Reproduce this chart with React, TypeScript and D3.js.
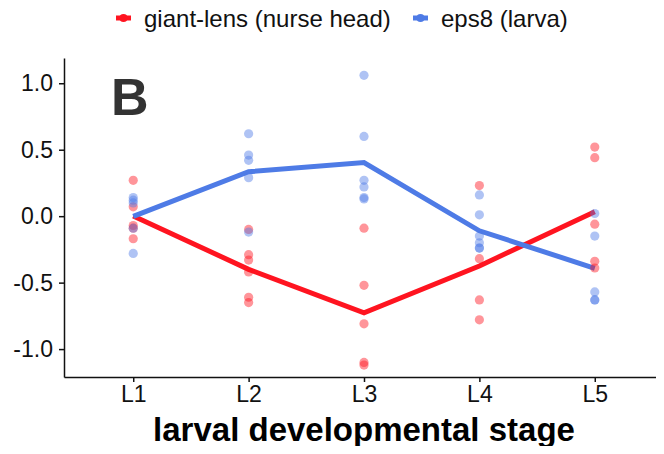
import { useEffect, useRef } from 'react';
import * as d3 from "d3";

// stages on the x axis
const stages = ["L1", "L2", "L3", "L4", "L5"];

// giant-lens (nurse head), one array of replicate values per stage
const lensValues = [
  [0.27, 0.07, -0.07, -0.09, -0.17],
  [-0.10, -0.29, -0.33, -0.42, -0.61, -0.65],
  [-0.09, -0.52, -0.81, -1.10, -1.12],
  [0.23, -0.32, -0.63, -0.78],
  [0.52, 0.44, -0.06, -0.34, -0.39],
];

// eps8 (larva)
const eps8Values = [
  [0.14, 0.12, 0.10, -0.09, -0.28],
  [0.62, 0.46, 0.42, 0.29, -0.12],
  [1.06, 0.60, 0.27, 0.22, 0.14, 0.13],
  [0.16, 0.01, -0.15, -0.20, -0.24, -0.24],
  [0.02, -0.15, -0.57, -0.63, -0.63],
];

const yTicks = [1.0, 0.5, 0.0, -0.5, -1.0];

const seriesNames = ["giant-lens (nurse head)", "eps8 (larva)"];
const seriesColors = ["#ff1420", "#4e7be6"];

export default function App() {
  const chartRef = useRef<SVGSVGElement>(null);

  useEffect(() => {
    if (!chartRef.current) return;
    d3.select(chartRef.current).selectAll("*").remove();

    const width = 664;
    const height = 454;
    const marginTop = 58;
    const marginBottom = 77;
    const marginLeft = 64;
    const marginRight = 0;
    const font = "'Liberation Sans', Arial, sans-serif";

    const x = d3.scalePoint<string>()
      .domain(stages)
      .range([marginLeft, width - marginRight])
      .padding(0.6);

    const y = d3.scaleLinear()
      .domain([-1.21, 1.19])
      .range([height - marginBottom, marginTop]);

    const svg = d3.select(chartRef.current)
      .attr("viewBox", [0, 0, width, height])
      .attr("width", width)
      .attr("height", height)
      .style("display", "block")
      .style("font-family", font);

    svg.append("rect").attr("width", width).attr("height", height).attr("fill", "white");

    const allSeries = [lensValues, eps8Values];

    // mean lines
    allSeries.forEach((vals, i) => {
      const means = vals.map(v => d3.mean(v) as number);
      const line = d3.line<number>()
        .x((_, j) => x(stages[j]) as number)
        .y(d => y(d));
      svg.append("path")
        .datum(means)
        .attr("d", line)
        .attr("fill", "none")
        .attr("stroke", seriesColors[i])
        .attr("stroke-width", 5)
        .attr("stroke-linejoin", "miter");
    });

    // replicate points
    allSeries.forEach((vals, i) => {
      const pts = vals.flatMap((v, j) => v.map(val => ({ stage: stages[j], val })));
      svg.append("g")
        .selectAll("circle")
        .data(pts)
        .join("circle")
        .attr("cx", d => x(d.stage) as number)
        .attr("cy", d => y(d.val))
        .attr("r", 4.6)
        .attr("fill", seriesColors[i])
        .attr("fill-opacity", 0.45);
    });

    // y axis
    const yAxis = svg.append("g")
      .attr("transform", `translate(${marginLeft},0)`)
      .call(d3.axisLeft(y).tickValues(yTicks).tickFormat(d3.format(".1f")).tickSize(5).tickSizeOuter(0).tickPadding(6));
    yAxis.select(".domain").attr("stroke", "#111").attr("stroke-width", 1.5);
    yAxis.selectAll(".tick line").attr("stroke", "#111").attr("stroke-width", 1.5);
    yAxis.selectAll(".tick text")
      .attr("font-family", font)
      .attr("font-size", 23)
      .attr("fill", "#111")
      .text(d => d3.format(".1f")(d as number).replace("−", "-"));

    // x axis
    const xAxis = svg.append("g")
      .attr("transform", `translate(0,${height - marginBottom})`)
      .call(d3.axisBottom(x).tickSize(5).tickSizeOuter(0).tickPadding(4));
    xAxis.select(".domain").attr("stroke", "#111").attr("stroke-width", 1.5);
    xAxis.selectAll(".tick line").attr("stroke", "#111").attr("stroke-width", 1.5);
    xAxis.selectAll(".tick text")
      .attr("font-family", font)
      .attr("font-size", 23)
      .attr("fill", "#111");

    // x axis title
    svg.append("text")
      .attr("x", (marginLeft + width) / 2)
      .attr("y", 441)
      .attr("text-anchor", "middle")
      .attr("font-family", font)
      .attr("font-weight", "bold")
      .attr("font-size", 33)
      .attr("fill", "#000")
      .text("larval developmental stage");

    // cropped y label remnant
    svg.append("rect")
      .attr("x", 0).attr("y", 233).attr("width", 3).attr("height", 4).attr("fill", "#000");

    // panel letter
    svg.append("text")
      .attr("x", 111)
      .attr("y", 115)
      .attr("font-family", font)
      .attr("font-weight", "bold")
      .attr("font-size", 52)
      .attr("fill", "#333")
      .text("B");

    // legend
    const legend = svg.append("g");
    const legendX = [116, 413];
    seriesNames.forEach((name, i) => {
      const g = legend.append("g").attr("transform", `translate(${legendX[i]},18)`);
      g.append("line")
        .attr("x1", 0).attr("x2", 15)
        .attr("stroke", seriesColors[i])
        .attr("stroke-width", 5);
      g.append("circle").attr("cx", 7.5).attr("r", 4).attr("fill", seriesColors[i]);
      g.append("text")
        .attr("x", 28)
        .attr("y", 9)
        .attr("font-family", font)
        .attr("font-size", 24)
        .attr("fill", "#111")
        .text(name);
    });
  }, []);

  return (
    <div style={{ margin: -8 }}>
      <svg ref={chartRef}></svg>
    </div>
  );
}
